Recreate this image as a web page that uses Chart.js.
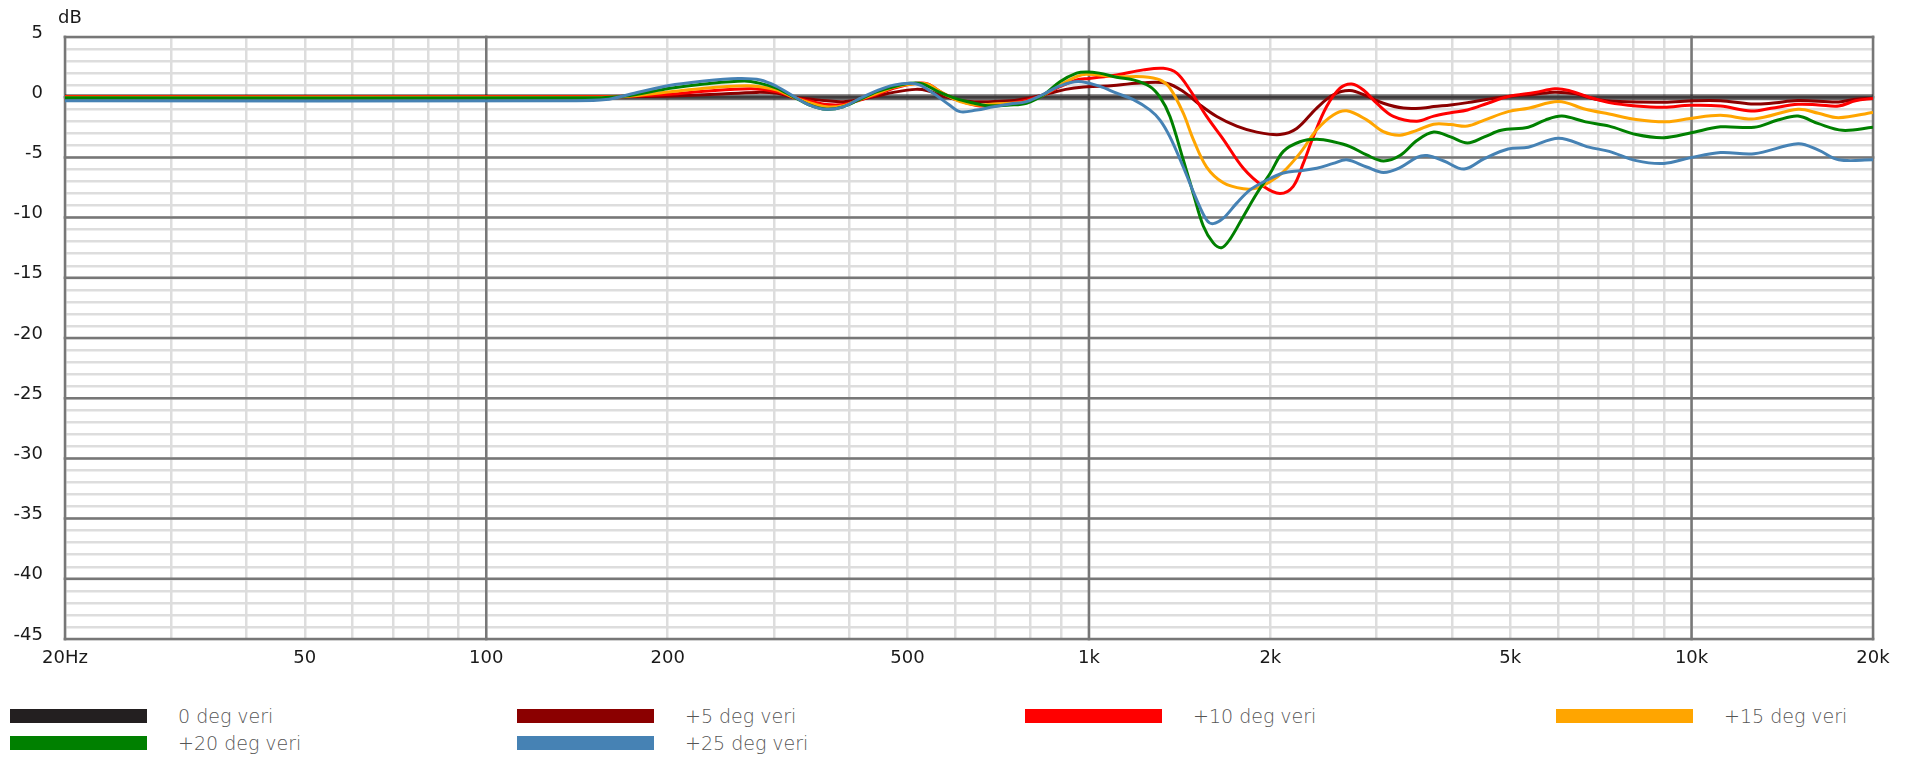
<!DOCTYPE html>
<html>
<head>
<meta charset="utf-8">
<title>Vertical off-axis response</title>
<script src="https://cdn.jsdelivr.net/npm/chart.js@4.4.1/dist/chart.umd.min.js"></script>
<style>
  html, body { margin: 0; padding: 0; background: #fff; }
  #wrap { position: relative; width: 1929px; height: 757px; overflow: hidden; }
  #c { position: absolute; left: 0; top: 0; }
  #unit { position: absolute; left: 58px; top: 6px; font-family: "DejaVu Sans", sans-serif; font-size: 18px;
          line-height: 22px; color: #1a1a1a; }
  .lg { position: absolute; display: flex; align-items: center; height: 14px; }
  .lg .sw { width: 137px; height: 14px; flex: none; }
  .lg .tx { margin-left: 31px; font-family: "DejaVu Sans ExtraLight", "DejaVu Sans", sans-serif;
            font-weight: 200; font-size: 19px; line-height: 14px; color: #555; white-space: nowrap; }
</style>
</head>
<body>
<div id="wrap">
  <canvas id="c" width="1929" height="690"></canvas>
  <div id="unit">dB</div>
  <div id="legend"></div>
</div>
<script>
// Frequency (Hz) / level (dB) pairs for each vertical angle
const deg0 = [[20, 0], [20000, 0]];

const deg5 = [[20,0.02],[100,0.02],[150,0.02],[180,0.05],[202,0.1],[240,0.25],[281,0.4],[304,0.32],[323,0],
  [344,-0.15],[367,-0.3],[391,-0.37],[417,-0.18],[445,0.1],[474,0.4],[516,0.65],[540,0.54],[573,0.1],
  [620,-0.32],[680,-0.37],[740,-0.3],[800,-0.04],[860,0.32],[915,0.65],[980,0.85],[1040,0.9],[1112,1.0],
  [1231,1.2],[1346,1.16],[1434,0.47],[1529,-0.64],[1630,-1.6],[1759,-2.4],[1899,-2.9],[2075,-3.1],
  [2212,-2.6],[2388,-0.9],[2544,0.2],[2712,0.55],[2890,0.1],[3080,-0.5],[3324,-0.9],[3588,-0.9],
  [3734,-0.78],[3982,-0.64],[4248,-0.45],[4590,-0.17],[4960,0.06],[5498,0.25],[5930,0.42],[6420,0.28],
  [6930,-0.17],[7586,-0.36],[9000,-0.42],[10100,-0.3],[11170,-0.3],[12550,-0.56],[13550,-0.5],
  [15020,-0.28],[17538,-0.39],[18704,-0.17],[20000,-0.1]];

const deg10 = [[20,0.05],[150,0.05],[175,0.1],[202,0.25],[230,0.5],[275,0.7],[304,0.46],[323,0],[344,-0.32],
  [367,-0.6],[391,-0.6],[417,-0.24],[445,0.24],[474,0.73],[516,1.15],[540,1.1],[573,0.32],[616,-0.37],
  [660,-0.73],[715,-0.6],[788,-0.24],[840,0.18],[895,0.87],[954,1.43],[1000,1.56],[1112,1.85],[1231,2.27],
  [1329,2.4],[1399,2.0],[1471,0.6],[1568,-1.6],[1671,-3.5],[1804,-5.9],[1947,-7.4],[2075,-8.0],
  [2183,-7.4],[2268,-5.5],[2356,-3.3],[2480,-0.78],[2610,0.75],[2730,1.1],[2854,0.6],[3002,-0.5],
  [3200,-1.6],[3501,-2.0],[3734,-1.57],[3982,-1.29],[4248,-1.06],[4590,-0.5],[4960,0.06],[5498,0.39],
  [5930,0.7],[6254,0.56],[6756,0],[7300,-0.45],[8092,-0.73],[9000,-0.84],[9950,-0.67],[11170,-0.73],
  [12550,-1.15],[13550,-0.92],[15020,-0.59],[16240,-0.64],[17538,-0.73],[18704,-0.3],[20000,-0.1]];

const deg15 = [[20,0],[150,0],[170,0.05],[202,0.45],[230,0.75],[270,0.95],[285,0.87],[304,0.6],[323,0],
  [344,-0.46],[367,-0.8],[391,-0.7],[417,-0.18],[445,0.32],[474,0.82],[510,1.1],[538,1.1],[573,0.32],
  [611,-0.37],[651,-0.65],[694,-0.57],[788,-0.37],[840,0.18],[895,1.0],[954,1.7],[990,1.9],[1112,1.7],
  [1231,1.7],[1312,1.44],[1363,0.75],[1434,-1.33],[1490,-3.5],[1568,-5.8],[1671,-7.1],[1804,-7.6],
  [1899,-7.55],[2000,-7.0],[2102,-6.2],[2240,-4.65],[2388,-2.7],[2544,-1.47],[2678,-1.13],[2890,-1.88],
  [3080,-2.85],[3282,-3.15],[3501,-2.75],[3734,-2.24],[3982,-2.27],[4248,-2.4],[4530,-1.9],[4960,-1.2],
  [5358,-0.92],[6016,-0.36],[6670,-1.0],[7300,-1.4],[8092,-1.85],[9090,-2.04],[9950,-1.76],[11170,-1.5],
  [12704,-1.8],[15020,-1.0],[16240,-1.34],[17538,-1.7],[20000,-1.26]];

const deg20 = [[20,-0.05],[150,-0.05],[170,0.1],[202,0.75],[230,1.1],[268,1.35],[285,1.15],[304,0.73],
  [323,0.04],[344,-0.65],[367,-1.0],[391,-0.8],[417,-0.18],[445,0.46],[474,0.87],[505,1.15],[530,1.1],
  [562,0.46],[600,-0.1],[640,-0.46],[680,-0.7],[740,-0.65],[788,-0.5],[840,0.18],[895,1.29],[954,2.0],
  [990,2.1],[1040,2.0],[1112,1.66],[1185,1.44],[1262,0.89],[1312,0],[1363,-1.6],[1434,-5.2],[1490,-8.0],
  [1548,-10.7],[1608,-12.1],[1660,-12.5],[1714,-11.8],[1804,-9.9],[1899,-8.0],[2000,-6.3],[2102,-4.5],
  [2240,-3.7],[2388,-3.5],[2544,-3.7],[2712,-4.1],[2890,-4.8],[3080,-5.3],[3282,-4.85],[3501,-3.6],
  [3734,-2.9],[3982,-3.3],[4248,-3.8],[4530,-3.3],[4831,-2.75],[5358,-2.5],[5716,-1.9],[6094,-1.57],
  [6670,-2.05],[7300,-2.4],[8092,-3.1],[9000,-3.36],[9950,-2.97],[11170,-2.46],[12704,-2.5],[13900,-1.9],
  [15020,-1.57],[16240,-2.2],[17800,-2.75],[20000,-2.5]];

const deg25 = [[20,-0.3],[140,-0.3],[158,-0.2],[172,0.2],[200,0.95],[230,1.35],[262,1.55],[285,1.43],
  [304,0.87],[323,0.1],[344,-0.65],[367,-1.0],[391,-0.8],[417,-0.1],[445,0.54],[474,1.0],[505,1.15],
  [525,1.0],[552,0.32],[587,-0.65],[611,-1.2],[651,-1.07],[694,-0.8],[740,-0.57],[788,-0.37],[840,0.24],
  [895,0.93],[960,1.3],[1043,0.9],[1112,0.33],[1185,-0.2],[1262,-1.05],[1312,-1.9],[1363,-3.3],
  [1434,-5.8],[1509,-8.5],[1568,-10.2],[1608,-10.5],[1671,-10.05],[1759,-8.8],[1851,-7.7],[1972,-6.9],
  [2102,-6.3],[2240,-6.1],[2388,-5.9],[2544,-5.5],[2678,-5.2],[2890,-5.8],[3080,-6.25],[3282,-5.85],
  [3501,-5.0],[3639,-4.85],[3882,-5.3],[4193,-5.97],[4530,-5.1],[4960,-4.3],[5358,-4.15],[6016,-3.4],
  [6756,-4.15],[7300,-4.5],[8092,-5.27],[9000,-5.5],[9930,-5.04],[11170,-4.6],[12704,-4.7],[15020,-3.87],
  [16240,-4.4],[17538,-5.2],[20000,-5.2]];

const seriesNames = ['0 deg veri', '+5 deg veri', '+10 deg veri', '+15 deg veri', '+20 deg veri', '+25 deg veri'];
const seriesData = [deg0, deg5, deg10, deg15, deg20, deg25];
const swatchColors = ['#231f20', '#8b0000', '#ff0000', '#ffa500', '#008000', '#4682b4'];
const lineColors = ['rgba(35,31,32,0.66)', '#8b0000', '#ff0000', '#ffa500', '#008000', '#4682b4'];

// Axis ticks
const xTickValues = [20, 50, 100, 200, 500, 1000, 2000, 5000, 10000, 20000];
const xTickLabels = ['20Hz', '50', '100', '200', '500', '1k', '2k', '5k', '10k', '20k'];
const yMin = -45, yMax = 5;

// 1..9 gridlines per decade between 20 Hz and 20 kHz
const xGrid = [];
for (let d = 10; d <= 10000; d *= 10) {
  for (let m = 1; m <= 9; m++) {
    const v = m * d;
    if (v >= 20 && v <= 20000) xGrid.push(v);
  }
}
if (xGrid[xGrid.length - 1] !== 20000) xGrid.push(20000);
const xMajor = [20, 100, 1000, 10000, 20000];

const MAJOR = '#777777', MINOR = '#dddddd';
const TICK_FONT = '18px "DejaVu Sans"';

const datasets = seriesData.map((pts, i) => ({
  label: seriesNames[i],
  data: pts.map(p => ({ x: p[0], y: p[1] })),
  borderColor: lineColors[i],
  backgroundColor: lineColors[i],
  borderWidth: i === 0 ? 6 : 3,
  pointRadius: 0,
  tension: 0.35,
  fill: false,
  order: seriesData.length - i
}));

// Dark decade / 5 dB lines stroked over the light minor grid, plus frequency labels
const majorGrid = {
  id: 'majorGrid',
  beforeDatasetsDraw(chart) {
    const { ctx, chartArea: a, scales } = chart;
    ctx.save();
    ctx.strokeStyle = MAJOR;
    ctx.lineWidth = 2.5;
    ctx.beginPath();
    for (let v = yMin; v <= yMax; v += 5) {
      const y = scales.y.getPixelForValue(v);
      ctx.moveTo(a.left - 1.5, y);
      ctx.lineTo(a.right + 1.5, y);
    }
    xMajor.forEach(v => {
      const x = scales.x.getPixelForValue(v);
      ctx.moveTo(x, a.top - 1.5);
      ctx.lineTo(x, a.bottom + 1.5);
    });
    ctx.stroke();
    ctx.restore();
  },
  afterDraw(chart) {
    const { ctx, chartArea: a, scales } = chart;
    ctx.save();
    ctx.font = TICK_FONT;
    ctx.fillStyle = '#1a1a1a';
    ctx.textAlign = 'center';
    ctx.textBaseline = 'middle';
    xTickValues.forEach((v, i) => {
      ctx.fillText(xTickLabels[i], scales.x.getPixelForValue(v), a.bottom + 19);
    });
    ctx.restore();
  }
};

new Chart(document.getElementById('c'), {
  type: 'line',
  data: { datasets },
  plugins: [majorGrid],
  options: {
    responsive: false,
    animation: false,
    devicePixelRatio: 1,
    layout: { padding: { top: 37, right: 56, bottom: 0, left: 0 } },
    plugins: { legend: { display: false }, tooltip: { enabled: false } },
    scales: {
      x: {
        type: 'logarithmic',
        min: 20,
        max: 20000,
        afterBuildTicks: s => { s.ticks = xGrid.map(v => ({ value: v })); },
        afterFit: s => { s.height = 51; },
        border: { display: false },
        grid: { drawTicks: false, color: MINOR, lineWidth: 2.5 },
        ticks: { display: false, autoSkip: false, maxRotation: 0 }
      },
      y: {
        type: 'linear',
        min: yMin,
        max: yMax,
        afterBuildTicks: s => {
          const t = [];
          for (let v = yMin; v <= yMax; v++) t.push({ value: v });
          s.ticks = t;
        },
        afterFit: s => { s.width = 65; },
        border: { display: false },
        grid: { drawTicks: false, color: MINOR, lineWidth: 2.5 },
        ticks: {
          autoSkip: false,
          padding: 22,
          labelOffset: -4,
          color: '#1a1a1a',
          font: { family: 'DejaVu Sans', size: 18 },
          callback: v => (v % 5 === 0 ? String(v) : '')
        }
      }
    }
  }
});

// Legend: four columns, two rows
const legendCols = [10, 517, 1025, 1556];
const legendRows = [709, 736];
const legend = document.getElementById('legend');
seriesNames.forEach((name, i) => {
  const item = document.createElement('div');
  item.className = 'lg';
  item.style.left = legendCols[i % 4] + 'px';
  item.style.top = legendRows[Math.floor(i / 4)] + 'px';
  const sw = document.createElement('div');
  sw.className = 'sw';
  sw.style.background = swatchColors[i];
  const tx = document.createElement('span');
  tx.className = 'tx';
  tx.textContent = name;
  item.appendChild(sw);
  item.appendChild(tx);
  legend.appendChild(item);
});
</script>
</body>
</html>
